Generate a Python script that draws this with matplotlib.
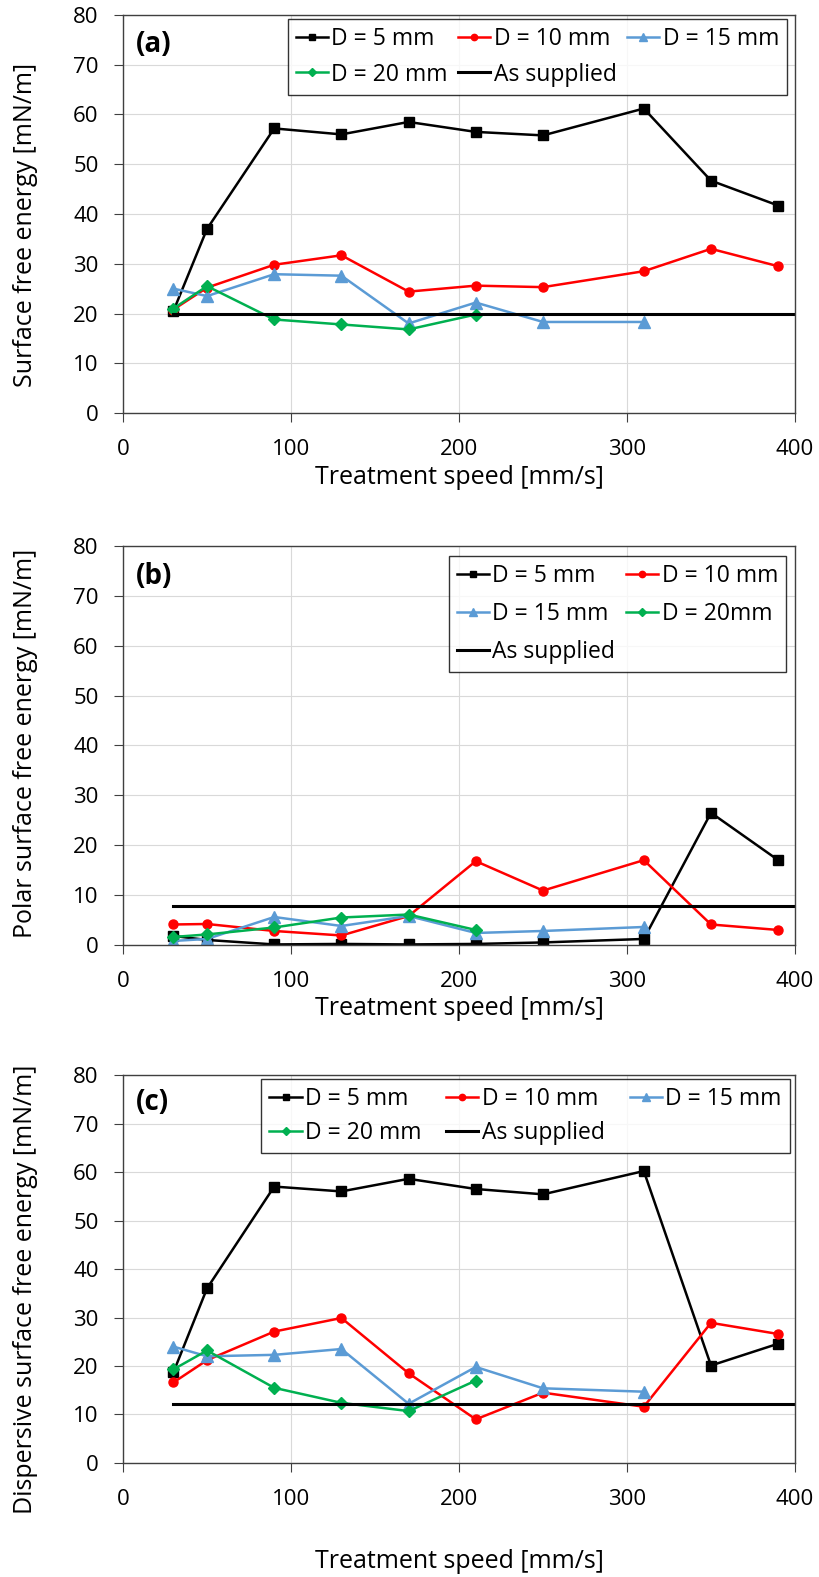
import numpy as np
import matplotlib.pyplot as plt

plt.rcParams['font.family'] = ['Open Sans', 'DejaVu Sans']

speed = [30, 50, 90, 130, 170, 210, 250, 310, 350, 390]
speed15 = speed[:8]
speed20 = speed[:6]

# (a) total surface free energy
a_d5 = [20.5, 37.0, 57.2, 56.0, 58.5, 56.5, 55.8, 61.2, 46.7, 41.7]
a_d10 = [20.8, 25.2, 29.8, 31.7, 24.4, 25.6, 25.3, 28.5, 33.0, 29.5]
a_d15 = [25.0, 23.5, 27.9, 27.6, 18.0, 22.2, 18.3, 18.3]
a_d20 = [21.0, 25.5, 18.8, 17.8, 16.8, 19.8]
a_supplied = 20.0

# (b) polar
b_d5 = [1.8, 1.0, 0.1, 0.2, 0.1, 0.2, 0.5, 1.2, 26.5, 17.0]
b_d10 = [4.1, 4.2, 2.8, 1.9, 5.8, 16.8, 10.9, 17.0, 4.1, 3.0]
b_d15 = [0.8, 1.2, 5.6, 3.8, 5.8, 2.4, 2.8, 3.6]
b_d20 = [1.6, 2.1, 3.5, 5.5, 6.1, 3.0]
b_supplied = 7.8

# (c) dispersive
c_d5 = [18.7, 36.0, 57.0, 56.0, 58.6, 56.5, 55.4, 60.2, 20.1, 24.6]
c_d10 = [16.6, 21.2, 27.1, 29.9, 18.5, 9.0, 14.5, 11.6, 28.9, 26.6]
c_d15 = [24.0, 22.0, 22.3, 23.5, 12.2, 19.8, 15.4, 14.7]
c_d20 = [19.3, 23.2, 15.5, 12.4, 10.7, 17.0]
c_supplied = 12.1

ylabels = ["Surface free energy [mN/m]",
           "Polar surface free energy [mN/m]",
           "Dispersive surface free energy [mN/m]"]
tags = ["(a)", "(b)", "(c)"]
d20_names = ["D = 20 mm", "D = 20mm", "D = 20 mm"]

fig = plt.figure(figsize=(8.19, 15.77), dpi=100)
rects = [[0.1502, 0.7381, 0.8205, 0.2524],
         [0.1502, 0.4008, 0.8205, 0.2530],
         [0.1502, 0.0723, 0.8205, 0.2460]]
legend_boxes = [(0.245, 0.803, 0.743, 0.184),
                (0.485, 0.688, 0.502, 0.284),
                (0.206, 0.806, 0.786, 0.177)]
tag_y = [0.927, 0.923, 0.928]
ylab_y = [0.473, 0.505, 0.447]
xlab_pad = [4, 3, 28]
leg_sp = [0.5, 0.6, 0.4]
datasets = [(a_d5, a_d10, a_d15, a_d20, a_supplied),
            (b_d5, b_d10, b_d15, b_d20, b_supplied),
            (c_d5, c_d10, c_d15, c_d20, c_supplied)]

spine_c = '#404040'
for i, (d5, d10, d15, d20, sup) in enumerate(datasets):
    ax = fig.add_axes(rects[i])
    h5, = ax.plot(speed, d5, color='black', marker='s', ms=6.5, lw=1.8, label='D = 5 mm')
    h10, = ax.plot(speed, d10, color='#FF0000', marker='o', ms=6.5, lw=1.8, label='D = 10 mm')
    h15, = ax.plot(speed15, d15, color='#5B9BD5', marker='^', ms=9, lw=1.8, label='D = 15 mm')
    h20, = ax.plot(speed20, d20, color='#00B050', marker='D', ms=6.5, lw=1.8, label=d20_names[i])
    hs, = ax.plot([30, 400], [sup, sup], color='black', lw=2.2, label='As supplied')
    ax.set_xlim(0, 400)
    ax.set_ylim(0, 80)
    ax.set_xticks(np.arange(0, 401, 100))
    ax.set_yticks(np.arange(0, 81, 10))
    ax.grid(True, color='#D9D9D9', lw=0.8)
    ax.set_axisbelow(True)
    for s in ax.spines.values():
        s.set_color(spine_c)
        s.set_linewidth(1.0)
    ax.tick_params(direction='out', length=6.5, color=spine_c, labelsize=16)
    ax.tick_params(axis='x', pad=12)
    ax.tick_params(axis='y', pad=11)
    ax.set_ylabel(ylabels[i], fontsize=18)
    ax.yaxis.set_label_coords(-0.1265, ylab_y[i])
    ax.set_xlabel("Treatment speed [mm/s]", fontsize=18, labelpad=xlab_pad[i])
    ax.text(0.019, tag_y[i], tags[i], transform=ax.transAxes, fontsize=20,
            fontweight='bold', va='center', ha='left')
    if i == 1:
        handles = [h5, h15, hs, h10, h20]
        ncol = 2
    else:
        handles = [h5, h20, h10, hs, h15]
        ncol = 3
    leg = ax.legend(handles=handles, ncol=ncol, bbox_to_anchor=legend_boxes[i],
                    mode='expand', loc='center', fontsize=16.5, frameon=True,
                    fancybox=False, edgecolor='black', handlelength=1.4,
                    handletextpad=0.15, columnspacing=0.6, borderaxespad=0,
                    labelspacing=leg_sp[i], markerscale=0.7, borderpad=0.35)
    leg.get_frame().set_linewidth(1.0)

fig.savefig("out.png", dpi=100)
